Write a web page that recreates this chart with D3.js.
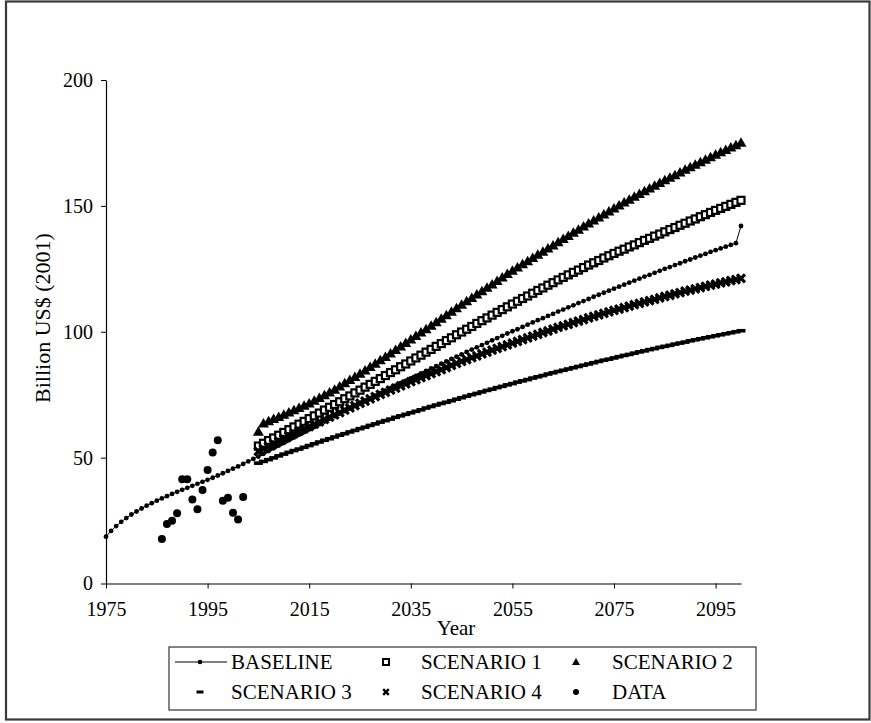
<!DOCTYPE html>
<html><head><meta charset="utf-8">
<script src="https://cdnjs.cloudflare.com/ajax/libs/d3/7.8.5/d3.min.js"></script>
<style>
html,body{margin:0;padding:0;background:#fff;}
svg{display:block;}
svg text{font-family:'Liberation Serif','Times New Roman',Times,'DejaVu Serif',serif !important;fill:#000;}
</style></head>
<body>
<svg id="chart" width="871" height="723"></svg>
<script>
// ---------- data ----------
const baselineStart = 1975;
const baseline = [
 18.6,20.9,22.8,24.5,26.0,27.4,28.6,29.8,30.9,31.9,
 32.9,33.8,34.7,35.6,36.4,37.2,38.0,38.8,39.6,40.4,
 41.2,42.0,42.9,43.8,44.7,45.6,46.5,47.5,48.5,49.5,
 50.4,51.5,52.6,53.7,54.8,55.8,56.9,58.0,59.1,60.1,
 61.2,62.2,63.3,64.3,65.4,66.4,67.5,68.5,69.5,70.5,
 71.6,72.6,73.6,74.6,75.6,76.6,77.6,78.6,79.6,80.5,
 81.5,82.5,83.5,84.4,85.4,86.3,87.3,88.2,89.2,90.1,
 91.0,92.0,92.9,93.8,94.7,95.6,96.6,97.5,98.4,99.3,
 100.2,101.0,101.9,102.8,103.7,104.6,105.4,106.3,107.1,108.0,
 108.8,109.7,110.5,111.4,112.2,113.0,113.9,114.7,115.5,116.3,
 117.1,117.9,118.7,119.5,120.3,121.1,121.9,122.6,123.4,124.2,
 125.0,125.7,126.5,127.2,128.0,128.7,129.5,130.2,130.9,131.7,
 132.4,133.1,133.8,134.5,135.2,142.0
];
const scenarioStart = 2005;
const scenario1 = [
 54.6,55.7,56.8,57.8,58.9,60.0,61.1,62.2,63.3,64.4,
 65.5,66.6,67.7,68.9,70.0,71.1,72.2,73.4,74.5,75.7,
 76.8,78.0,79.1,80.3,81.4,82.6,83.8,84.9,86.1,87.2,
 88.4,89.6,90.7,91.9,93.0,94.2,95.3,96.5,97.6,98.8,
 99.9,101.0,102.1,103.3,104.4,105.5,106.6,107.7,108.8,109.9,
 111.0,112.1,113.2,114.2,115.3,116.4,117.4,118.5,119.5,120.6,
 121.6,122.6,123.6,124.5,125.5,126.5,127.4,128.3,129.3,130.2,
 131.1,132.0,132.8,133.7,134.5,135.4,136.3,137.1,138.0,138.8,
 139.7,140.6,141.4,142.3,143.1,144.0,144.8,145.7,146.5,147.4,
 148.2,149.0,149.8,150.6,151.4,152.2
];
const scenario2 = [
 60.3,63.6,64.4,65.3,66.1,67.0,67.9,68.8,69.7,70.6,
 71.5,72.6,73.7,74.8,75.9,77.0,78.3,79.5,80.8,82.0,
 83.3,84.6,86.0,87.3,88.7,90.0,91.4,92.8,94.1,95.5,
 96.9,98.3,99.7,101.0,102.4,103.8,105.2,106.6,107.9,109.3,
 110.7,112.1,113.4,114.8,116.1,117.5,118.8,120.2,121.5,122.9,
 124.2,125.5,126.8,128.0,129.3,130.6,131.8,133.1,134.3,135.6,
 136.8,138.0,139.3,140.5,141.8,143.0,144.2,145.4,146.6,147.8,
 149.0,150.1,151.3,152.4,153.6,154.7,155.8,156.9,158.0,159.1,
 160.2,161.2,162.2,163.3,164.3,165.3,166.3,167.3,168.3,169.3,
 170.3,171.3,172.2,173.2,174.1,175.1
];
const scenario3 = [
 47.8,48.5,49.2,49.9,50.7,51.4,52.1,52.8,53.4,54.1,
 54.8,55.5,56.2,56.9,57.5,58.2,58.9,59.5,60.2,60.8,
 61.5,62.1,62.8,63.4,64.1,64.7,65.3,66.0,66.6,67.2,
 67.8,68.4,69.0,69.7,70.3,70.9,71.5,72.0,72.6,73.2,
 73.8,74.4,75.0,75.5,76.1,76.7,77.2,77.8,78.3,78.9,
 79.4,80.0,80.5,81.0,81.6,82.1,82.6,83.2,83.7,84.2,
 84.7,85.2,85.7,86.2,86.7,87.2,87.7,88.2,88.7,89.1,
 89.6,90.1,90.6,91.0,91.5,92.0,92.4,92.9,93.3,93.8,
 94.2,94.6,95.1,95.5,95.9,96.4,96.8,97.2,97.6,98.0,
 98.4,98.8,99.2,99.6,100.0,100.4
];
const scenario4 = [
 52.5,53.5,54.5,55.5,56.5,57.5,58.5,59.4,60.4,61.4,
 62.3,63.3,64.2,65.2,66.1,67.0,67.9,68.9,69.8,70.7,
 71.6,72.4,73.3,74.2,75.1,75.9,76.8,77.6,78.5,79.3,
 80.2,81.0,81.8,82.6,83.4,84.2,85.0,85.8,86.6,87.4,
 88.2,88.9,89.7,90.4,91.2,91.9,92.7,93.4,94.1,94.8,
 95.5,96.2,96.9,97.6,98.3,99.0,99.7,100.3,101.0,101.7,
 102.3,102.9,103.6,104.2,104.8,105.5,106.1,106.7,107.3,107.9,
 108.5,109.0,109.6,110.2,110.8,111.3,111.9,112.4,112.9,113.5,
 114.0,114.5,115.0,115.5,116.1,116.5,117.0,117.5,118.0,118.5,
 118.9,119.4,119.8,120.3,120.7,121.2
];
const dataYears = [1986,1987,1988,1989,1990,1991,1992,1993,1994,1995,1996,1997,1998,1999,2000,2001,2002];
const dataValues = [17.7,23.6,24.9,27.9,41.4,41.4,33.4,29.5,37.1,45.1,52.0,56.9,32.9,34.1,28.1,25.4,34.4];
const xTicks = [1975,1995,2015,2035,2055,2075,2095];
const yTicks = [0,50,100,150,200];
const legendLabels = ["BASELINE","SCENARIO 1","SCENARIO 2","SCENARIO 3","SCENARIO 4","DATA"];
const xTitle = "Year";
const yTitle = "Billion US$ (2001)";

// ---------- build ----------
const toPts = (arr, start) => arr.map((v,i)=>({x:start+i, y:v}));
const svg = d3.select("#chart");
const FONT = "'Liberation Serif','Times New Roman',Times,serif";

// outer frame
svg.append("rect").attr("x",6).attr("y",1.5).attr("width",863.5).attr("height",718)
  .attr("fill","#fff").attr("stroke","#3a3a3a").attr("stroke-width",2.2);

const x = d3.scaleLinear().domain([1975,2100]).range([106,741]);
const y = d3.scaleLinear().domain([0,200]).range([583.5,80]);

// axes
const gx = svg.append("g").attr("transform","translate(0,583.5)")
  .call(d3.axisBottom(x).tickValues(xTicks).tickFormat(d3.format("d")).tickSize(5).tickSizeOuter(0).tickPadding(13));
const gy = svg.append("g").attr("transform","translate(106,0)")
  .call(d3.axisLeft(y).tickValues(yTicks).tickSize(5).tickSizeOuter(0).tickPadding(8));
[gx,gy].forEach(g=>{
  g.attr("font-family",FONT).attr("font-size",20);
  g.select(".domain").attr("stroke","#000").attr("stroke-width",1.2);
  g.selectAll(".tick line").attr("stroke","#000").attr("stroke-width",1);
  g.selectAll(".tick text").style("font-family",FONT).attr("font-size",20).attr("fill","#000");
});

svg.append("text").attr("x",456).attr("y",635).attr("text-anchor","middle").attr("font-size",21).style("font-family",FONT).text(xTitle);
svg.append("text").attr("transform","translate(50,318) rotate(-90)").attr("text-anchor","middle").attr("font-size",22).style("font-family",FONT).text(yTitle);

// symbol painters
const sym = {
  base:(g,px,py)=>g.append("circle").attr("cx",px).attr("cy",py).attr("r",2.4).attr("fill","#000"),
  square:(g,px,py)=>g.append("rect").attr("x",px-3.5).attr("y",py-3.5).attr("width",7).attr("height",7).attr("fill","#fff").attr("stroke","#000").attr("stroke-width",2.2),
  tri:(g,px,py)=>g.append("path").attr("d",`M${px},${py-5.5}L${px+5.5},${py+4}L${px-5.5},${py+4}Z`).attr("fill","#000"),
  dash:(g,px,py)=>g.append("rect").attr("x",px-4.5).attr("y",py-1.8).attr("width",9).attr("height",3.6).attr("fill","#000"),
  cross:(g,px,py)=>g.append("path").attr("d",`M${px-4},${py-4}L${px+4},${py+4}M${px+4},${py-4}L${px-4},${py+4}`).attr("stroke","#000").attr("stroke-width",3.2),
  dot:(g,px,py)=>g.append("circle").attr("cx",px).attr("cy",py).attr("r",4).attr("fill","#000")
};
const symL = {
  square:(g,px,py)=>g.append("rect").attr("x",px-3).attr("y",py-3).attr("width",6).attr("height",6).attr("fill","#fff").attr("stroke","#000").attr("stroke-width",2),
  tri:(g,px,py)=>g.append("path").attr("d",`M${px},${py-4}L${px+4},${py+3}L${px-4},${py+3}Z`).attr("fill","#000"),
  dash:(g,px,py)=>g.append("rect").attr("x",px-3.5).attr("y",py-1.5).attr("width",7).attr("height",3).attr("fill","#000"),
  cross:(g,px,py)=>g.append("path").attr("d",`M${px-2.8},${py-2.8}L${px+2.8},${py+2.8}M${px+2.8},${py-2.8}L${px-2.8},${py+2.8}`).attr("stroke","#000").attr("stroke-width",2.4),
  dot:(g,px,py)=>g.append("circle").attr("cx",px).attr("cy",py).attr("r",3).attr("fill","#000")
};

const plot = svg.append("g");
const bPts = toPts(baseline, baselineStart);
plot.append("path").datum(bPts).attr("fill","none").attr("stroke","#000").attr("stroke-width",1)
  .attr("d", d3.line().x(d=>x(d.x)).y(d=>y(d.y)));
const gb = plot.append("g");
bPts.forEach(d=>sym.base(gb,x(d.x),y(d.y)));
const series = [
  [toPts(scenario1, scenarioStart), sym.square],
  [toPts(scenario2, scenarioStart), sym.tri],
  [toPts(scenario3, scenarioStart), sym.dash],
  [toPts(scenario4, scenarioStart), sym.cross],
];
series.forEach(([pts,f])=>{ const g=plot.append("g"); pts.forEach(d=>f(g,x(d.x),y(d.y))); });
const gd = plot.append("g");
dataYears.forEach((yr,i)=>sym.dot(gd,x(yr),y(dataValues[i])));

// legend
const lg = svg.append("g");
lg.append("rect").attr("x",169).attr("y",647).attr("width",587).attr("height",63)
  .attr("fill","#fff").attr("stroke","#333").attr("stroke-width",1.2);
const rowsY = [662, 692];
const colText = [231, 421, 612];
const colMark = [200, 386, 576];
const painters = [null, symL.square, symL.tri, symL.dash, symL.cross, symL.dot];
legendLabels.forEach((lab,i)=>{
  const r = Math.floor(i/3), c = i%3, cy = rowsY[r];
  if(i===0){
    lg.append("line").attr("x1",175).attr("x2",227).attr("y1",cy).attr("y2",cy).attr("stroke","#000").attr("stroke-width",1);
    lg.append("circle").attr("cx",colMark[0]).attr("cy",cy).attr("r",2.3).attr("fill","#000");
  } else {
    painters[i](lg,colMark[c],cy);
  }
  lg.append("text").attr("x",colText[c]).attr("y",cy+7).attr("font-size",21).style("font-family",FONT).text(lab);
});
</script>
</body></html>
